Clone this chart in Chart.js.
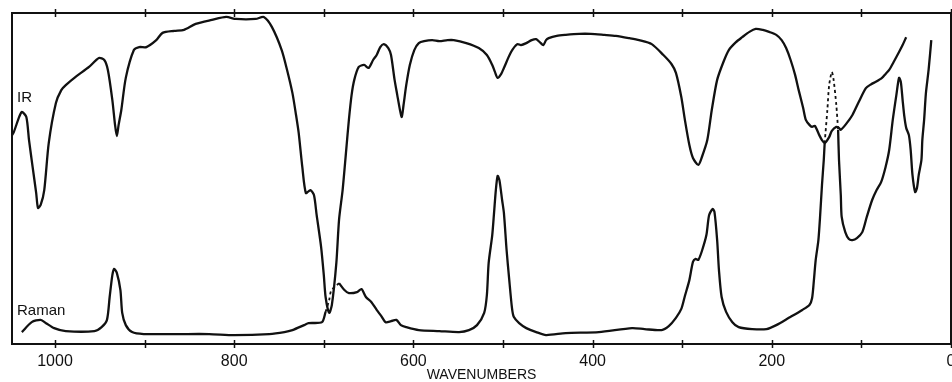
<!DOCTYPE html>
<html>
<head>
<meta charset="utf-8">
<title>IR / Raman</title>
<script src="https://cdn.jsdelivr.net/npm/chart.js@4.4.1/dist/chart.umd.min.js"></script>
<style>
  html, body { margin: 0; padding: 0; background: #fff; }
  #spectra { display: block; }
</style>
</head>
<body>
<canvas id="spectra" width="952" height="382"></canvas>
<script>
// IR trace (wavenumber, transmission %)
const irWavenumbers = [1048, 1046, 1040, 1037, 1032, 1029, 1025, 1021, 1019, 1016, 1012, 1007, 999, 993, 988, 977, 962, 951, 945, 941, 936, 933, 931, 929, 926, 921, 912, 906, 898, 887, 880, 867, 856, 843, 825, 809, 798, 776, 767, 758, 747, 741, 735, 731, 728, 724, 720, 715, 711, 708, 703, 700, 698, 694, 691, 686, 683, 679, 675, 672, 669, 666, 661, 655, 650, 645, 641, 637, 633, 628, 625, 621, 618, 615, 613, 611, 608, 604, 599, 594, 588, 579, 571, 562, 555, 541, 527, 518, 512, 509, 506, 502, 499, 491, 484, 480, 474, 468, 463, 459, 455, 452, 449, 440, 430, 415, 402, 387, 374, 359, 348, 334, 321, 312, 307, 301, 297, 292, 288, 282, 278, 272, 267, 261, 254, 248, 240, 233, 225, 218, 210, 203, 195, 189, 184, 179, 174, 170, 165, 162, 158, 155, 152, 147, 144, 141, 136, 133, 128, 125, 123, 117, 110, 103, 95, 89, 84, 77, 73, 69, 64, 58, 54, 50];
const irValues = [63.1, 64.0, 68.6, 70.1, 68.6, 61.6, 53.5, 45.6, 41.1, 42.0, 46.5, 60.7, 72.8, 76.7, 78.2, 80.7, 83.7, 86.4, 85.8, 82.8, 73.7, 66.2, 62.8, 66.2, 70.7, 80.4, 88.8, 89.7, 89.7, 91.8, 94.0, 94.6, 94.9, 96.7, 97.9, 98.8, 98.2, 98.2, 98.8, 95.8, 88.8, 82.8, 75.8, 69.2, 63.7, 53.5, 45.6, 46.5, 45.0, 39.0, 29.3, 20.8, 14.2, 9.4, 11.8, 24.5, 37.5, 46.5, 58.6, 67.7, 75.2, 79.8, 83.7, 84.3, 83.4, 85.8, 87.3, 89.7, 90.6, 89.4, 87.3, 79.8, 75.2, 70.7, 68.6, 72.2, 78.2, 84.3, 88.8, 90.9, 91.5, 91.8, 91.5, 91.8, 91.8, 90.9, 89.4, 87.3, 84.3, 82.2, 80.4, 81.6, 83.4, 88.2, 90.6, 90.3, 90.9, 91.8, 92.1, 91.2, 90.3, 91.8, 92.4, 93.1, 93.4, 93.7, 93.7, 93.4, 93.1, 92.4, 91.8, 90.6, 87.3, 84.6, 81.9, 74.6, 67.7, 60.1, 56.2, 54.1, 56.5, 61.6, 70.7, 79.8, 85.2, 88.8, 91.2, 92.7, 94.3, 95.2, 94.9, 94.3, 93.4, 91.8, 89.4, 85.8, 81.3, 76.7, 71.3, 67.7, 66.2, 65.6, 65.9, 63.1, 61.6, 60.7, 62.5, 64.4, 65.6, 65.3, 64.7, 66.5, 69.2, 73.1, 77.3, 78.5, 79.2, 80.4, 81.6, 82.8, 85.2, 88.2, 90.3, 92.7];

// Raman trace, solid parts
const ramanAWavenumbers = [1037, 1026, 1016, 1010, 1001, 988, 956, 948, 942, 939, 936, 934, 931, 927, 925, 921, 914, 901, 862, 828, 800, 761, 744, 735, 722, 717, 702, 698];
const ramanAValues = [3.6, 6.6, 7.3, 6.3, 4.8, 3.9, 3.9, 5.1, 7.3, 14.2, 20.8, 22.7, 21.5, 16.3, 9.4, 5.7, 3.6, 3.0, 3.0, 3.0, 2.7, 3.0, 3.6, 4.2, 5.7, 6.3, 6.6, 9.7];

const ramanBWavenumbers = [683, 677, 672, 663, 658, 653, 647, 641, 636, 631, 625, 619, 614, 608, 594, 571, 549, 538, 529, 521, 518, 516, 512, 510, 508, 506, 504, 501, 499, 496, 493, 490, 488, 482, 474, 463, 452, 430, 393, 356, 342, 323, 315, 307, 301, 297, 292, 288, 285, 282, 278, 273, 270, 266, 264, 261, 259, 256, 251, 244, 237, 222, 206, 195, 181, 166, 158, 155, 153, 151, 148, 146, 144, 142, 141];
const ramanBValues = [18.4, 16.3, 15.4, 15.7, 16.6, 14.2, 12.7, 10.3, 8.5, 6.6, 6.9, 7.3, 5.7, 5.1, 4.2, 3.9, 3.6, 4.2, 5.7, 9.4, 14.8, 24.5, 32.9, 39.6, 46.5, 50.8, 49.5, 43.5, 39.6, 28.4, 19.3, 10.9, 8.2, 6.3, 4.8, 3.6, 2.7, 3.3, 3.6, 4.8, 4.5, 4.2, 5.4, 7.9, 10.6, 14.5, 19.3, 24.8, 25.7, 25.4, 28.1, 32.9, 38.9, 40.8, 39.9, 31.4, 22.4, 14.2, 9.7, 6.6, 5.1, 4.5, 4.5, 5.7, 7.9, 10.3, 11.8, 13.9, 19.3, 25.4, 31.4, 39.0, 48.0, 55.6, 60.7];

const ramanCWavenumbers = [126, 125, 123, 122, 118, 114, 110, 105, 99, 94, 88, 83, 78, 73, 69, 65, 61, 58, 56, 54, 52, 50, 47, 45, 43, 40, 38, 36, 33, 32, 30, 28, 25, 22];
const ramanCValues = [64.7, 55.6, 45.0, 38.4, 33.8, 31.7, 31.4, 32.0, 33.8, 38.4, 43.5, 46.5, 48.9, 53.5, 58.6, 67.7, 75.2, 80.4, 79.2, 73.7, 68.6, 65.3, 63.1, 58.6, 51.1, 45.9, 47.1, 51.1, 55.6, 61.6, 67.7, 75.8, 82.8, 91.8];

// Raman trace, dashed parts
const ramanDash1Wavenumbers = [698, 694, 692, 688, 683];
const ramanDash1Values = [9.7, 13.3, 16.0, 17.2, 18.4];
const ramanDash2Wavenumbers = [141, 138, 136, 133, 131, 128, 126];
const ramanDash2Values = [60.7, 70.7, 78.2, 82.2, 79.8, 72.2, 64.7];

const tickValues = [0, 100, 200, 300, 400, 500, 600, 700, 800, 900, 1000];
const tickLabels = ['0', '', '200', '', '400', '', '600', '', '800', '', '1000'];

const INK = '#111';

function pairs(xs, ys) {
    return xs.map((x, i) => ({ x: x, y: ys[i] }));
}

function trace(label, xs, ys, dashed) {
    return {
        label: label,
        data: pairs(xs, ys),
        borderColor: INK,
        borderWidth: dashed ? 1.8 : 2.3,
        borderDash: dashed ? [3, 3] : [],
        pointRadius: 0,
        tension: 0.25,
        fill: false
    };
}

// tick marks across the top and bottom frame lines, plus the trace labels
const framePlugin = {
    id: 'frame',
    afterDraw(chart) {
        const ctx = chart.ctx;
        const xs = chart.scales.x;
        const area = chart.chartArea;
        ctx.save();
        ctx.strokeStyle = INK;
        ctx.lineWidth = 1.5;
        tickValues.forEach(v => {
            const px = Math.round(xs.getPixelForValue(v)) + 0.5;
            ctx.beginPath();
            ctx.moveTo(px, area.bottom - 4);
            ctx.lineTo(px, area.bottom + 4);
            ctx.moveTo(px, area.top - 4);
            ctx.lineTo(px, area.top + 4);
            ctx.stroke();
        });
        ctx.fillStyle = INK;
        ctx.font = '15px "Liberation Sans", Arial, sans-serif';
        ctx.textBaseline = 'alphabetic';
        ctx.textAlign = 'left';
        ctx.fillText('IR', 17, 102);
        ctx.fillText('Raman', 17, 315);
        ctx.restore();
    }
};

const ctx = document.getElementById('spectra').getContext('2d');
const chart = new Chart(ctx, {
    type: 'line',
    data: {
        datasets: [
            trace('IR', irWavenumbers, irValues, false),
            trace('Raman', ramanAWavenumbers, ramanAValues, false),
            trace('Raman', ramanBWavenumbers, ramanBValues, false),
            trace('Raman', ramanCWavenumbers, ramanCValues, false),
            trace('Raman', ramanDash1Wavenumbers, ramanDash1Values, true),
            trace('Raman', ramanDash2Wavenumbers, ramanDash2Values, true)
        ]
    },
    options: {
        responsive: false,
        animation: false,
        layout: { padding: { left: 12, right: 1, top: 0, bottom: 0 } },
        plugins: {
            legend: { display: false },
            tooltip: { enabled: false }
        },
        scales: {
            x: {
                type: 'linear',
                position: 'bottom',
                min: 0,
                max: 1048,
                reverse: true,
                grid: { display: false },
                border: { display: true, color: INK, width: 2 },
                afterBuildTicks: s => { s.ticks = tickValues.map(v => ({ value: v })); },
                ticks: {
                    autoSkip: false,
                    maxRotation: 0,
                    padding: 0,
                    color: INK,
                    font: { family: '"Liberation Sans", Arial, sans-serif', size: 16 },
                    callback: v => tickLabels[tickValues.indexOf(v)]
                },
                title: {
                    display: true,
                    text: 'WAVENUMBERS',
                    color: INK,
                    padding: 0,
                    font: { family: '"Liberation Sans", Arial, sans-serif', size: 14, lineHeight: 1 }
                },
                afterFit: s => { s.height = 38; s.paddingLeft = 0; s.paddingRight = 0; }
            },
            x2: {
                type: 'linear',
                position: 'top',
                min: 0,
                max: 1048,
                reverse: true,
                grid: { display: false },
                ticks: { display: false },
                border: { display: true, color: INK, width: 2 },
                afterFit: s => { s.height = 13; s.paddingLeft = 0; s.paddingRight = 0; }
            },
            y: {
                min: 0,
                max: 100,
                grid: { display: false },
                ticks: { display: false },
                border: { display: true, color: INK, width: 2 },
                afterFit: s => { s.width = 0; }
            },
            y2: {
                position: 'right',
                min: 0,
                max: 100,
                grid: { display: false },
                ticks: { display: false },
                border: { display: true, color: INK, width: 2 },
                afterFit: s => { s.width = 0; }
            }
        }
    },
    plugins: [framePlugin]
});
</script>
</body>
</html>
